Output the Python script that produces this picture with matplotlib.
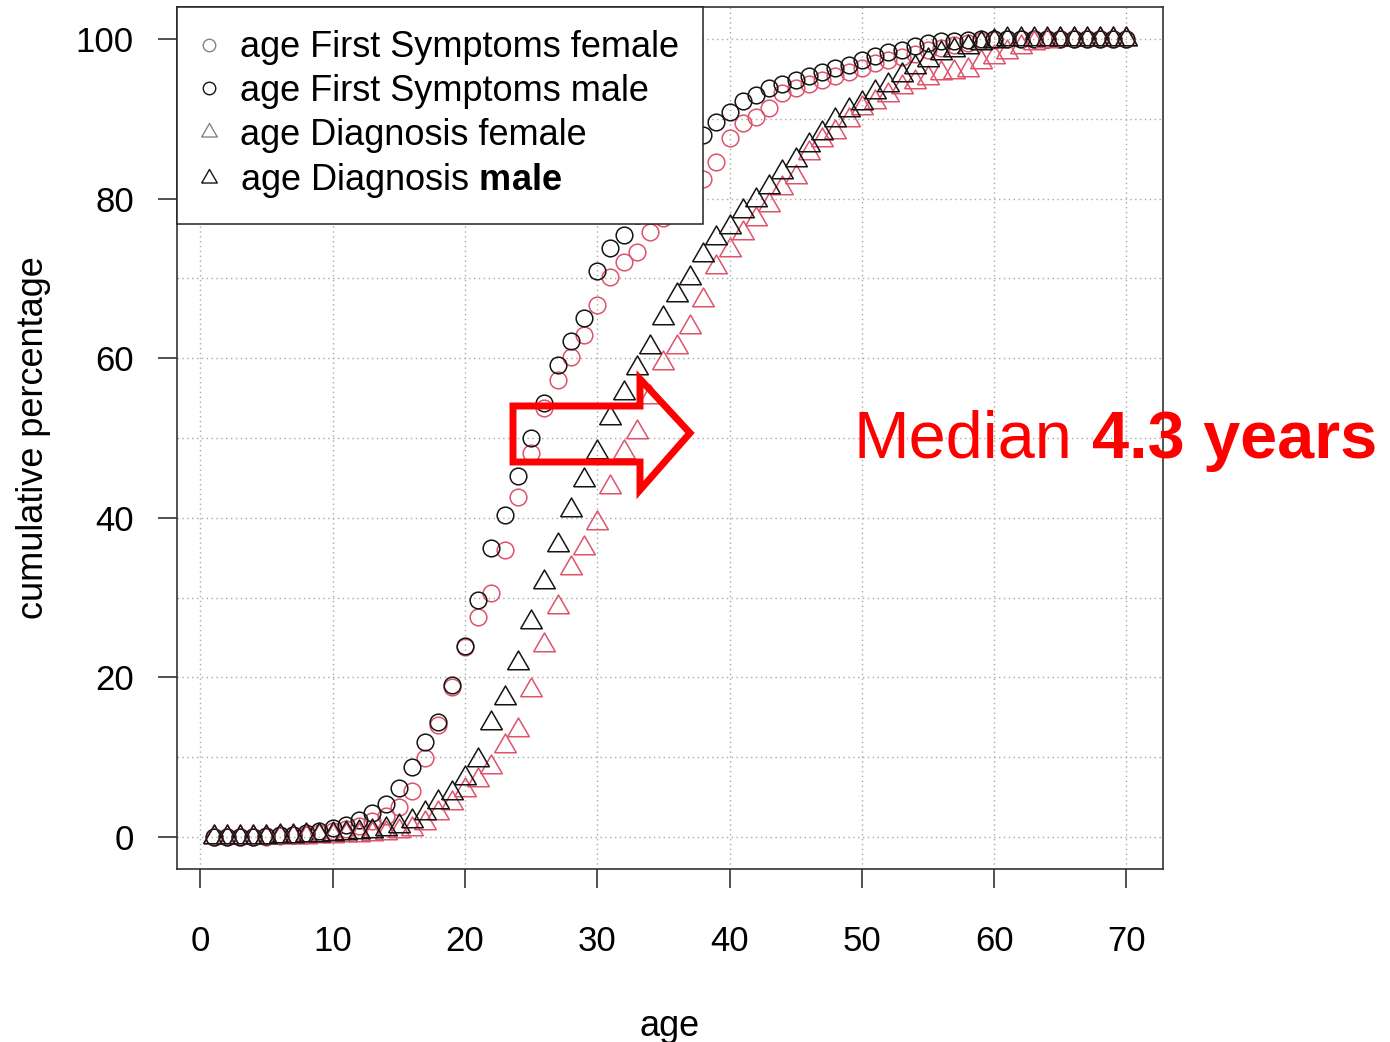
import matplotlib.pyplot as plt
from matplotlib.lines import Line2D
from matplotlib.patches import Polygon

plt.rcParams['font.family'] = ['Liberation Sans', 'DejaVu Sans']
plt.rcParams['mathtext.fontset'] = 'custom'
plt.rcParams['mathtext.rm'] = 'Liberation Sans'
plt.rcParams['mathtext.bf'] = 'Liberation Sans:bold'

# cumulative percentage by age
ages = list(range(1, 71))

fs_female = [0, 0, 0, 0, 0, 0.1, 0.2, 0.3, 0.5, 0.7,
             1.0, 1.4, 2.0, 2.6, 3.8, 5.8, 9.9, 14.0, 18.8, 23.8,
             27.6, 30.6, 36.0, 42.6, 48.1, 53.8, 57.3, 60.2, 62.9, 66.7,
             70.2, 72.0, 73.3, 75.8, 77.6, 79.2, 80.7, 82.4, 84.6, 87.6,
             89.5, 90.2, 91.4, 93.2, 93.9, 94.4, 94.9, 95.4, 95.9, 96.4,
             97.0, 97.4, 97.7, 98.1, 98.6, 98.9, 99.2, 99.5, 99.7, 99.9,
             100, 100, 100, 100, 100, 100, 100, 100, 100, 100]

fs_male = [0, 0, 0, 0, 0.1, 0.2, 0.3, 0.5, 0.8, 1.1,
           1.5, 2.2, 3.0, 4.1, 6.2, 8.8, 11.9, 14.4, 19.0, 24.0,
           29.7, 36.2, 40.4, 45.2, 50.0, 54.4, 59.1, 62.2, 65.0, 70.9,
           73.8, 75.4, 78.0, 80.8, 83.2, 85.2, 86.8, 88.0, 89.6, 90.9,
           92.2, 93.0, 93.8, 94.3, 94.9, 95.3, 95.9, 96.4, 96.7, 97.3,
           97.9, 98.3, 98.6, 99.1, 99.5, 99.7, 99.8, 99.9, 100, 100,
           100, 100, 100, 100, 100, 100, 100, 100, 100, 100]

dg_female = [0, 0, 0, 0, 0, 0, 0, 0, 0.1, 0.1,
             0.2, 0.3, 0.4, 0.5, 0.7, 1.0, 1.8, 3.0, 4.3, 5.9,
             7.1, 8.8, 11.4, 13.4, 18.4, 24.1, 28.8, 33.7, 36.2, 39.4,
             43.9, 48.2, 50.8, 55.1, 59.4, 61.4, 63.9, 67.3, 71.4, 73.6,
             75.7, 77.5, 79.2, 81.3, 82.7, 85.7, 87.3, 88.3, 89.8, 91.4,
             92.1, 93.0, 94.0, 94.6, 95.1, 95.7, 95.9, 96.1, 97.1, 97.7,
             98.4, 99.0, 99.5, 99.8, 100, 100, 100, 100, 100, 100]

dg_male = [0, 0, 0, 0, 0, 0.1, 0.1, 0.2, 0.3, 0.4,
           0.5, 0.6, 0.8, 1.0, 1.4, 2.0, 3.0, 4.4, 5.5, 7.4,
           9.6, 14.3, 17.4, 21.8, 27.0, 32.0, 36.6, 41.0, 44.8, 48.3,
           52.5, 55.6, 58.8, 61.4, 65.0, 67.9, 70.0, 72.9, 75.0, 76.4,
           78.5, 79.8, 81.5, 83.3, 84.8, 86.7, 88.2, 89.8, 91.1, 92.0,
           93.4, 94.2, 95.5, 96.5, 97.4, 98.2, 98.6, 99.0, 99.5, 99.8,
           100, 100, 100, 100, 100, 100, 100, 100, 100, 100]

labels = ['age First Symptoms female', 'age First Symptoms male',
          'age Diagnosis female', 'age Diagnosis $\\bf{male}$']

pink = '#DF536B'
dark = '#151515'
tri = [(-0.866, -0.5), (0.866, -0.5), (0, 1), (-0.866, -0.5)]  # R-like pch=2

fig = plt.figure(figsize=(13.9, 10.42), dpi=100)
ax = fig.add_axes([177 / 1390, 1 - 869 / 1042, 986 / 1390, 862 / 1042])

# 1. points
ax.plot(ages, fs_female, ls='none', marker='o', ms=12, mfc='none', mec=pink, mew=1.1)
ax.plot(ages, fs_male, ls='none', marker='o', ms=12, mfc='none', mec=dark, mew=1.1)
ax.plot(ages, dg_female, ls='none', marker=tri, ms=18, mfc='none', mec=pink, mew=1.1)
ax.plot(ages, dg_male, ls='none', marker=tri, ms=18, mfc='none', mec=dark, mew=1.1)

# 2. axes, R style
ax.set_xlim(-1.76, 72.76)
ax.set_ylim(-4, 104)
ax.set_xticks(range(0, 71, 10))
ax.set_yticks(range(0, 101, 20))
ax.set_yticks(range(0, 101, 10), minor=True)
ax.tick_params(axis='both', which='major', labelsize=25, length=14, width=1.2, color='#333333')
ax.tick_params(axis='x', pad=26)
ax.tick_params(axis='y', pad=17)
ax.tick_params(axis='y', which='minor', length=0)
ax.grid(True, which='both', color='#a8a8a8', linestyle=(0, (1, 2.5)), linewidth=1)
ax.set_axisbelow(True)
for s in ax.spines.values():
    s.set_color('#333333')
    s.set_linewidth(1.2)

ax.set_xlabel('age', fontsize=26)
ax.set_ylabel('cumulative percentage', fontsize=26)
ax.xaxis.label.set_va('center')
ax.yaxis.label.set_va('center')
ax.xaxis.set_label_coords(0.5, -0.183)
ax.yaxis.set_label_coords(-0.146, 0.5)

# 3. legend
handles = [
    Line2D([], [], ls='none', marker='o', ms=9, mfc='none', mec='#858585', mew=1.0),
    Line2D([], [], ls='none', marker='o', ms=9, mfc='none', mec=dark, mew=1.0),
    Line2D([], [], ls='none', marker=tri, ms=13, mfc='none', mec='#858585', mew=1.0),
    Line2D([], [], ls='none', marker=tri, ms=13, mfc='none', mec=dark, mew=1.0),
]
leg = ax.legend(handles, labels, loc='upper left', bbox_to_anchor=(0, 1),
                borderaxespad=0, fontsize=26, fancybox=False, framealpha=1,
                edgecolor='#222222', handlelength=0.45, handletextpad=0.65,
                borderpad=0.65, labelspacing=0.24, numpoints=1)
leg.get_frame().set_linewidth(1.1)

# 4. red block arrow + median note
pts = [(513, 406), (640, 406), (640, 379), (690, 433), (640, 490), (640, 462), (513, 462)]
arrow = Polygon([(x / 1390, 1 - y / 1042) for x, y in pts], closed=True,
                fill=False, edgecolor='#ff0000', linewidth=5,
                joinstyle='miter', transform=fig.transFigure)
fig.add_artist(arrow)

fig.text(853 / 1390, 1 - 458 / 1042, 'Median', color='#ff0000', fontsize=48, va='baseline')
fig.text(1092 / 1390, 1 - 458 / 1042, '4.3 years', color='#ff0000', fontsize=48,
         fontweight='bold', va='baseline')

fig.savefig('out.png', dpi=100)
